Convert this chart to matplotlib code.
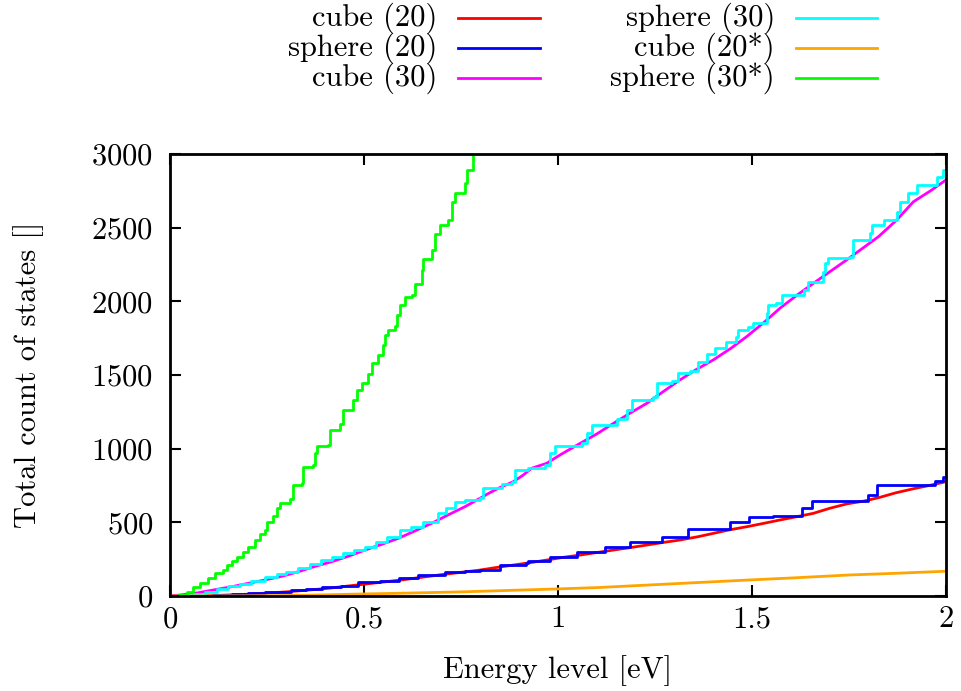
import matplotlib
matplotlib.use('Agg')
import matplotlib.pyplot as plt
from matplotlib.lines import Line2D
from matplotlib.ticker import FuncFormatter

plt.rcParams['font.family'] = ['cmr10', 'DejaVu Serif']
plt.rcParams['axes.formatter.use_mathtext'] = True
plt.rcParams['font.size'] = 22

# cumulative state counts (energy in eV, count)
cube20_e = [0, 0.10, 0.2, 0.3, 0.4, 0.5, 0.6, 0.7, 0.799, 0.84, 0.885, 0.93, 0.971, 1.01, 1.057,
            1.10, 1.143, 1.19, 1.229, 1.27, 1.314, 1.36, 1.40, 1.44, 1.486, 1.53, 1.572, 1.615,
            1.658, 1.70, 1.744, 1.79, 1.83, 1.87, 1.916, 1.96, 2.0]
cube20_n = [0, 2, 12, 28, 50, 80, 110, 145, 176, 193, 210, 227, 244, 261, 278,
            295, 312, 330, 346, 363, 380, 402, 425, 448, 470, 493, 516, 538,
            561, 595, 625, 645, 670, 700, 728, 752, 776]

sphere20_e = [0, 0.06, 0.11, 0.159, 0.2, 0.245, 0.313, 0.35, 0.391, 0.44, 0.485, 0.54, 0.589,
              0.64, 0.709, 0.76, 0.799, 0.851, 0.918, 0.923, 0.979, 1.048, 1.12, 1.186, 1.267,
              1.336, 1.443, 1.491, 1.555, 1.628, 1.654, 1.80, 1.821, 1.972, 1.993, 2.0]
sphere20_n = [0, 3, 8, 14, 20, 29, 41, 50, 59, 70, 97, 105, 120,
              140, 165, 170, 176, 210, 225, 240, 267, 301, 330, 369, 403,
              453, 505, 538, 545, 595, 647, 686, 753, 783, 810, 810]

cube30_e = [0, 0.03, 0.073, 0.11, 0.159, 0.2, 0.245, 0.29, 0.331, 0.37, 0.417, 0.46, 0.503,
            0.545, 0.589, 0.63, 0.674, 0.715, 0.76, 0.799, 0.82, 0.846, 0.885, 0.91, 0.932,
            0.971, 1.005, 1.03, 1.057, 1.10, 1.143, 1.185, 1.229, 1.27, 1.314, 1.355, 1.40,
            1.445, 1.486, 1.53, 1.572, 1.615, 1.658, 1.70, 1.744, 1.785, 1.826, 1.873, 1.916,
            1.96, 2.0]
cube30_n = [0, 8, 22, 40, 63, 85, 109, 135, 165, 198, 233, 270, 312,
            350, 392, 440, 493, 548, 606, 663, 695, 731, 776, 820, 867,
            901, 957, 995, 1036, 1100, 1172, 1240, 1308, 1385, 1466, 1535, 1602,
            1680, 1760, 1855, 1953, 2040, 2122, 2200, 2281, 2360, 2439, 2552, 2676,
            2750, 2824]

sphere30_e = [0, 0.03, 0.06, 0.09, 0.12, 0.15, 0.18, 0.21, 0.245, 0.275, 0.30, 0.331, 0.36,
              0.39, 0.417, 0.445, 0.475, 0.503, 0.53, 0.56, 0.593, 0.62, 0.653, 0.69, 0.712,
              0.735, 0.76, 0.799, 0.807, 0.855, 0.881, 0.889, 0.923, 0.966, 0.979, 0.992,
              1.061, 1.074, 1.087, 1.151, 1.177, 1.19, 1.246, 1.254, 1.293, 1.31, 1.34, 1.362,
              1.383, 1.405, 1.434, 1.46, 1.465, 1.49, 1.503, 1.538, 1.542, 1.563, 1.577,
              1.633, 1.645, 1.684, 1.688, 1.696, 1.753, 1.761, 1.804, 1.808, 1.84, 1.873,
              1.881, 1.903, 1.924, 1.976, 1.993, 2.0]
sphere30_n = [0, 5, 15, 30, 45, 65, 80, 100, 130, 150, 165, 190, 220,
              245, 268, 290, 315, 335, 365, 400, 448, 470, 505, 560, 600,
              640, 650, 663, 731, 760, 776, 855, 871, 889, 969, 1018,
              1036, 1104, 1160, 1200, 1262, 1330, 1353, 1448, 1460, 1516, 1530, 1590,
              1640, 1681, 1726, 1760, 1805, 1828, 1850, 1919, 1975, 1987, 2043,
              2077, 2133, 2201, 2258, 2292, 2300, 2416, 2462, 2518, 2552, 2608,
              2676, 2733, 2790, 2846, 2891, 2891]

cube20s_e = [0, 0.2, 0.35, 0.5, 0.6, 0.75, 0.85, 1.0, 1.1, 1.237, 1.35, 1.495, 1.6, 1.753, 1.85, 2.0]
cube20s_n = [0, 1, 5, 14, 19, 28, 36, 48, 57, 75, 90, 109, 122, 143, 152, 168]

sphere30s_e = [0, 0.02, 0.043, 0.06, 0.077, 0.099, 0.116, 0.137, 0.146, 0.159, 0.172, 0.189,
               0.202, 0.219, 0.232, 0.245, 0.249, 0.266, 0.275, 0.284, 0.309, 0.317, 0.339,
               0.344, 0.369, 0.374, 0.378, 0.408, 0.412, 0.438, 0.447, 0.472, 0.481, 0.494,
               0.511, 0.52, 0.537, 0.55, 0.554, 0.563, 0.58, 0.584, 0.593, 0.606, 0.623, 0.631,
               0.649, 0.653, 0.674, 0.683, 0.696, 0.717, 0.726, 0.734, 0.76, 0.765, 0.782]
sphere30s_n = [0, 10, 30, 60, 85, 120, 155, 175, 210, 235, 265, 300,
               335, 380, 420, 450, 505, 540, 595, 630, 655, 755, 765,
               875, 890, 970, 1020, 1025, 1125, 1170, 1260, 1330, 1400, 1445,
               1510, 1580, 1635, 1705, 1770, 1805, 1830, 1905, 1975, 2030, 2045, 2120,
               2215, 2285, 2350, 2460, 2520, 2555, 2675, 2735, 2800, 2890, 3000]

# label, energies, counts, colour, drawstyle (fine-stepped curves drawn as lines)
series = [
    ("cube (20)", cube20_e, cube20_n, "#ff0000", "default"),
    ("sphere (20)", sphere20_e, sphere20_n, "#0000ff", "steps-post"),
    ("cube (30)", cube30_e, cube30_n, "#ff00ff", "default"),
    ("sphere (30)", sphere30_e, sphere30_n, "#00ffff", "steps-post"),
    ("cube (20*)", cube20s_e, cube20s_n, "#ffa500", "default"),
    ("sphere (30*)", sphere30s_e, sphere30s_n, "#00ff00", "steps-post"),
]

fig = plt.figure(figsize=(9.62, 6.91), dpi=100)
ax = fig.add_axes([170 / 962, 95 / 691, 776 / 962, 442 / 691])

for label, e, n, c, ds in series:
    ax.plot(e, n, drawstyle=ds, color=c, lw=2.0)

ax.set_xlim(0, 2)
ax.set_ylim(0, 3000)
ax.set_xticks([0, 0.5, 1, 1.5, 2])
ax.set_yticks([0, 500, 1000, 1500, 2000, 2500, 3000])
ax.xaxis.set_major_formatter(FuncFormatter(lambda v, p: '%g' % v))
ax.tick_params(direction='in', top=True, right=True, length=8, width=1.5)
ax.tick_params(axis='x', pad=7)
ax.tick_params(axis='y', pad=12)
for s in ax.spines.values():
    s.set_linewidth(2)
ax.set_xlabel("Energy level [eV]", labelpad=16)
ax.set_ylabel("Total count of states []", labelpad=34)

# gnuplot style key: text right aligned, sample line on the right
rows = [0.974, 0.9305, 0.887]
cols = [(0.4543, 0.476, 0.561), (0.8056, 0.8274, 0.9116)]
for i, (label, e, n, c, ds) in enumerate(series):
    tx, l0, l1 = cols[i // 3]
    y = rows[i % 3]
    fig.text(tx, y, label, ha='right', va='center', fontsize=22)
    fig.add_artist(Line2D([l0, l1], [y, y], color=c, lw=2.0, transform=fig.transFigure))

plt.savefig("out.png", dpi=100)
